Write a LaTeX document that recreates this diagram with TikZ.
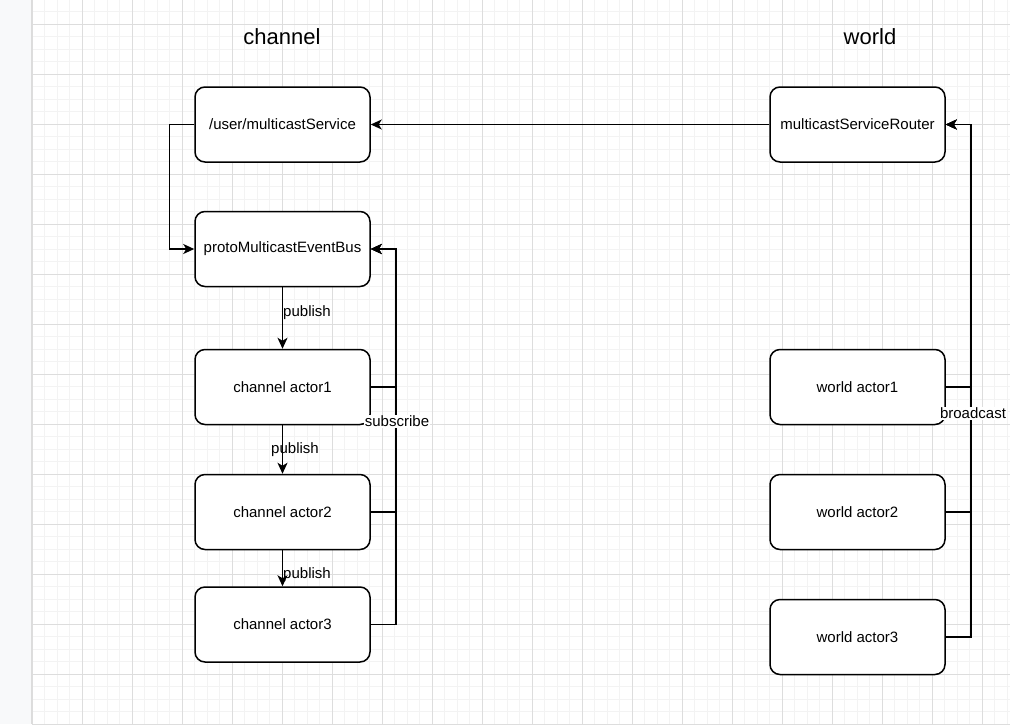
\documentclass[tikz,border=0pt]{standalone}
\usepackage{fontspec}
\setmainfont{Liberation Sans}
\usetikzlibrary{arrows.meta}
\definecolor{minorgrid}{HTML}{F3F3F3}
\definecolor{majorgrid}{HTML}{DDDDDD}
\definecolor{stripbg}{HTML}{F8F9FA}
\definecolor{stripedge}{HTML}{DCDCDC}
\tikzset{
  box/.style={draw=black, line width=1.5pt, rounded corners=10pt, minimum width=175pt, minimum height=75pt, inner sep=0pt, font=\fontsize{15}{18}\selectfont, fill=white},
  title/.style={font=\fontsize{22}{26}\selectfont, inner sep=0pt},
  lbl/.style={font=\fontsize{15}{18}\selectfont, inner sep=1pt},
  lblbg/.style={lbl, fill=white},
  conn/.style={draw=black, line width=1.5pt, -{Stealth[length=11pt,width=10pt,inset=3pt]}},
}
\begin{document}
\begin{tikzpicture}[x=1pt,y=-1pt]
\useasboundingbox (0,0) rectangle (1010,724);
\fill[white] (0,0) rectangle (1010,724);
% grid
\foreach \k in {0,...,78} {
  \draw[minorgrid, line width=1pt] ({32+12.5*\k},0) -- ({32+12.5*\k},724);
}
\foreach \k in {-1,...,56} {
  \draw[minorgrid, line width=1pt] (32,{24+12.5*\k}) -- (1010,{24+12.5*\k});
}
\foreach \k in {0,...,19} {
  \draw[majorgrid, line width=1pt] ({32+50*\k},0) -- ({32+50*\k},724);
}
\foreach \k in {0,...,14} {
  \draw[majorgrid, line width=1pt] (32,{24+50*\k}) -- (1010,{24+50*\k});
}
% left strip
\fill[stripbg] (0,0) rectangle (31,724);
\draw[stripedge, line width=1.2pt] (31.5,0) -- (31.5,724);

% titles
\node[title] (tch) at (282,37) {channel};
\node[title] (twd) at (870,37) {world};

% channel side
\node[box] (ums) at (282.5,124.5) {/user/multicastService};
\node[box] (bus) at (282.5,249) {protoMulticastEventBus};
\node[box] (ca1) at (282.5,387) {channel actor1};
\node[box] (ca2) at (282.5,512) {channel actor2};
\node[box] (ca3) at (282.5,624.5) {channel actor3};

% world side
\node[box] (msr) at (857.5,124.5) {multicastServiceRouter};
\node[box] (wa1) at (857.5,387) {world actor1};
\node[box] (wa2) at (857.5,512) {world actor2};
\node[box] (wa3) at (857.5,637) {world actor3};

% connectors
\draw[conn] (msr.west) -- (ums.east);
\draw[conn] (ums.west) -- ++(-25,0) |- (bus.west);
\draw[conn] (bus.south) -- (ca1.north);
\draw[conn] (ca1.south) -- (ca2.north);
\draw[conn] (ca2.south) -- (ca3.north);
\draw[conn] (ca1.east) -- ++(25,0) |- (bus.east);
\draw[conn] (ca2.east) -- ++(25,0) |- (bus.east);
\draw[conn] (ca3.east) -- ++(25,0) |- (bus.east);
\draw[conn] (wa1.east) -- ++(25,0) |- (msr.east);
\draw[conn] (wa2.east) -- ++(25,0) |- (msr.east);
\draw[conn] (wa3.east) -- ++(25,0) |- (msr.east);

% labels
\node[lbl] (p1) at (307,313) {publish};
\node[lbl] (p2) at (295,450) {publish};
\node[lbl] (p3) at (307,575) {publish};
\node[lblbg] (sub) at (397,421) {subscribe};
\node[lblbg] (bc) at (973,413) {broadcast};
\end{tikzpicture}
\end{document}
